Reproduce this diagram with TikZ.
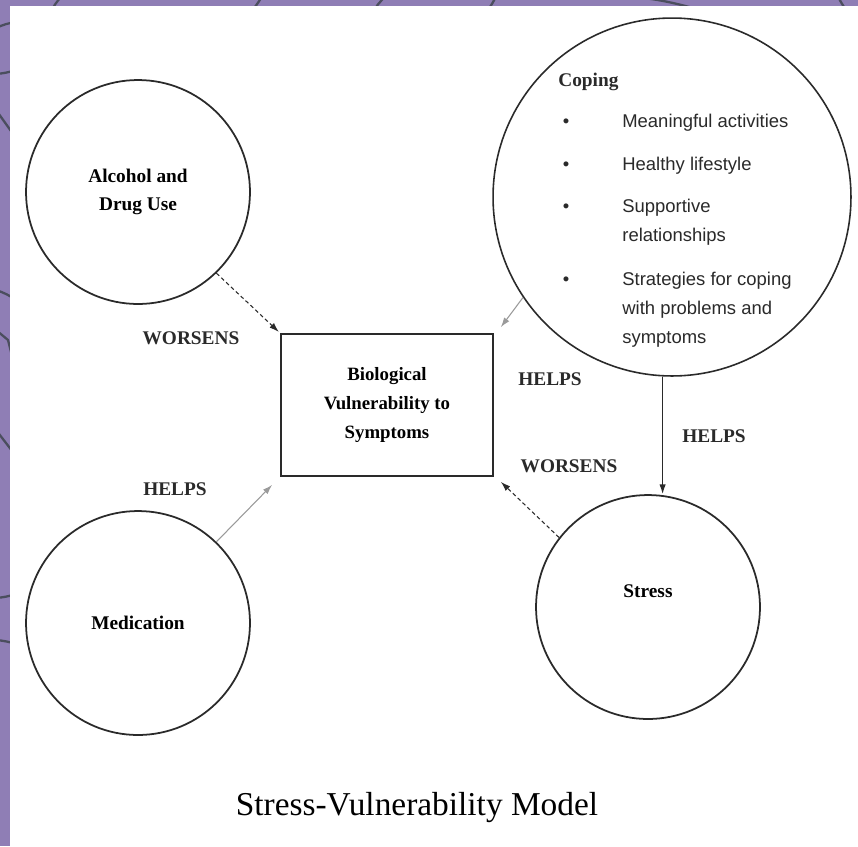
\documentclass[tikz,border=0pt]{standalone}
\usepackage{fontspec}
\setmainfont{Liberation Serif}
\newfontfamily\listfont{Liberation Sans}
\usepackage{xcolor}
\usetikzlibrary{positioning,arrows.meta,calc}
\definecolor{FrameViolet}{HTML}{8F7EB5}
\definecolor{FrameLine}{HTML}{4B4E5E}
\definecolor{InkDark}{HTML}{2A2A2A}
\definecolor{InkGray}{HTML}{9A9A9A}

\tikzset{
  bubble/.style={circle, draw=InkDark, line width=1pt, minimum size=4.48cm, inner sep=0pt,
    font=\fontsize{11}{16}\selectfont\bfseries, align=center},
  vulnbox/.style={rectangle, draw=InkDark, line width=1pt, minimum width=4.24cm, minimum height=2.84cm,
    font=\fontsize{10.7}{16.5}\selectfont\bfseries, align=center},
  lbl/.style={font=\fontsize{11}{13}\selectfont\bfseries, text=InkDark},
  copeitem/.style={anchor=west, font=\listfont\fontsize{10.5}{16.4}\selectfont, align=left, inner sep=0pt, text=InkDark},
  copebullet/.style={font=\listfont\fontsize{10.5}{12}\selectfont, inner sep=0pt, text=InkDark},
  worsens/.style={-{Latex[length=5.5pt,width=3.6pt]}, draw=InkDark, line width=0.6pt, dash pattern=on 2.2pt off 1.6pt},
  helps/.style={-{Latex[length=5.5pt,width=3.6pt]}, draw=InkGray, line width=0.6pt},
  helpsdark/.style={-{Latex[length=5.5pt,width=3.6pt]}, draw=InkDark, line width=0.7pt},
  deco/.style={draw=FrameLine, line width=1.3pt}
}

\begin{document}
\begin{tikzpicture}[x=0.02cm, y=-0.02cm]
  \useasboundingbox (0,0) rectangle (858,846);
  % violet frame with its curly strokes
  \fill[FrameViolet] (0,0) rectangle (858,846);
  \draw[deco] (50,14) to[bend left=10] (62,-4);
  \draw[deco] (248,14) to[bend right=10] (262,-4);
  \draw[deco] (372,14) to[bend left=10] (386,-4);
  \draw[deco] (484,14) to[bend right=10] (496,-4);
  \draw[deco] (600,-4) to[bend left=8] (700,10);
  \draw[deco] (838,-4) to[bend right=10] (850,14);
  \draw[deco] (-4,28) to[bend left=8] (16,22);
  \draw[deco] (-4,74) to[bend right=6] (16,70);
  \draw[deco] (-4,110) to (16,138);
  \draw[deco] (-4,290) to[bend left=8] (16,300);
  \draw[deco] (-4,330) to (8,340) to (16,372);
  \draw[deco] (-4,430) to (16,456);
  \draw[deco] (-4,598) to[bend right=6] (16,594);
  \draw[deco] (-4,640) to[bend left=6] (16,644);
  \fill[white] (10,6) rectangle (858,846);

  % the four circles and the box
  \node[bubble] (alcohol) at (138,192) {Alcohol and\\Drug Use};
  \node[bubble] (medication) at (138,623) {Medication};
  \node[bubble] (stress) at (648,607) {Stress\\[2pt]};
  \node[circle, draw=InkDark, line width=0.9pt, minimum size=7.16cm, inner sep=0pt] (coping) at (672,197) {};
  \node[vulnbox] (vuln) at (387,405) {Biological\\Vulnerability to\\Symptoms};

  % coping contents
  \node[lbl, anchor=west, inner sep=0pt] (copetitle) at (558,82) {Coping};
  \node[copebullet] (bulA) at (566,123) {\textbullet};
  \node[copeitem] (itemA) at (622,123) {Meaningful activities};
  \node[copebullet] (bulB) at (566,166) {\textbullet};
  \node[copeitem] (itemB) at (622,166) {Healthy lifestyle};
  \node[copebullet] (bulC) at (566,208) {\textbullet};
  \node[copeitem] (itemC) at (622,222.5) {Supportive\\relationships};
  \node[copebullet] (bulD) at (566,281) {\textbullet};
  \node[copeitem] (itemD) at (622,309.5) {Strategies for coping\\with problems and\\symptoms};

  % connectors
  \draw[worsens, shorten >=1pt] (alcohol.-46) -- (vuln.north west);
  \draw[helps] (coping.214.7) -- ($(vuln.north east)+(7,-6)$);
  \draw[helpsdark] (coping.-93.9) -- (coping.-93.9 |- stress.north);
  \draw[worsens] (stress.142.8) -- ($(vuln.south east)+(7,5)$);
  \draw[helps] (medication.46.8) -- ($(vuln.south west)+(-8,8)$);

  % labels
  \node[lbl] (lblA) at (191,338) {WORSENS};
  \node[lbl] (lblB) at (550,379) {HELPS};
  \node[lbl] (lblC) at (714,436) {HELPS};
  \node[lbl] (lblD) at (569,466) {WORSENS};
  \node[lbl] (lblE) at (175,489) {HELPS};

  \node[font=\fontsize{19}{22}\selectfont, text=black] (title) at (417,808) {Stress-Vulnerability Model};
\end{tikzpicture}
\end{document}
